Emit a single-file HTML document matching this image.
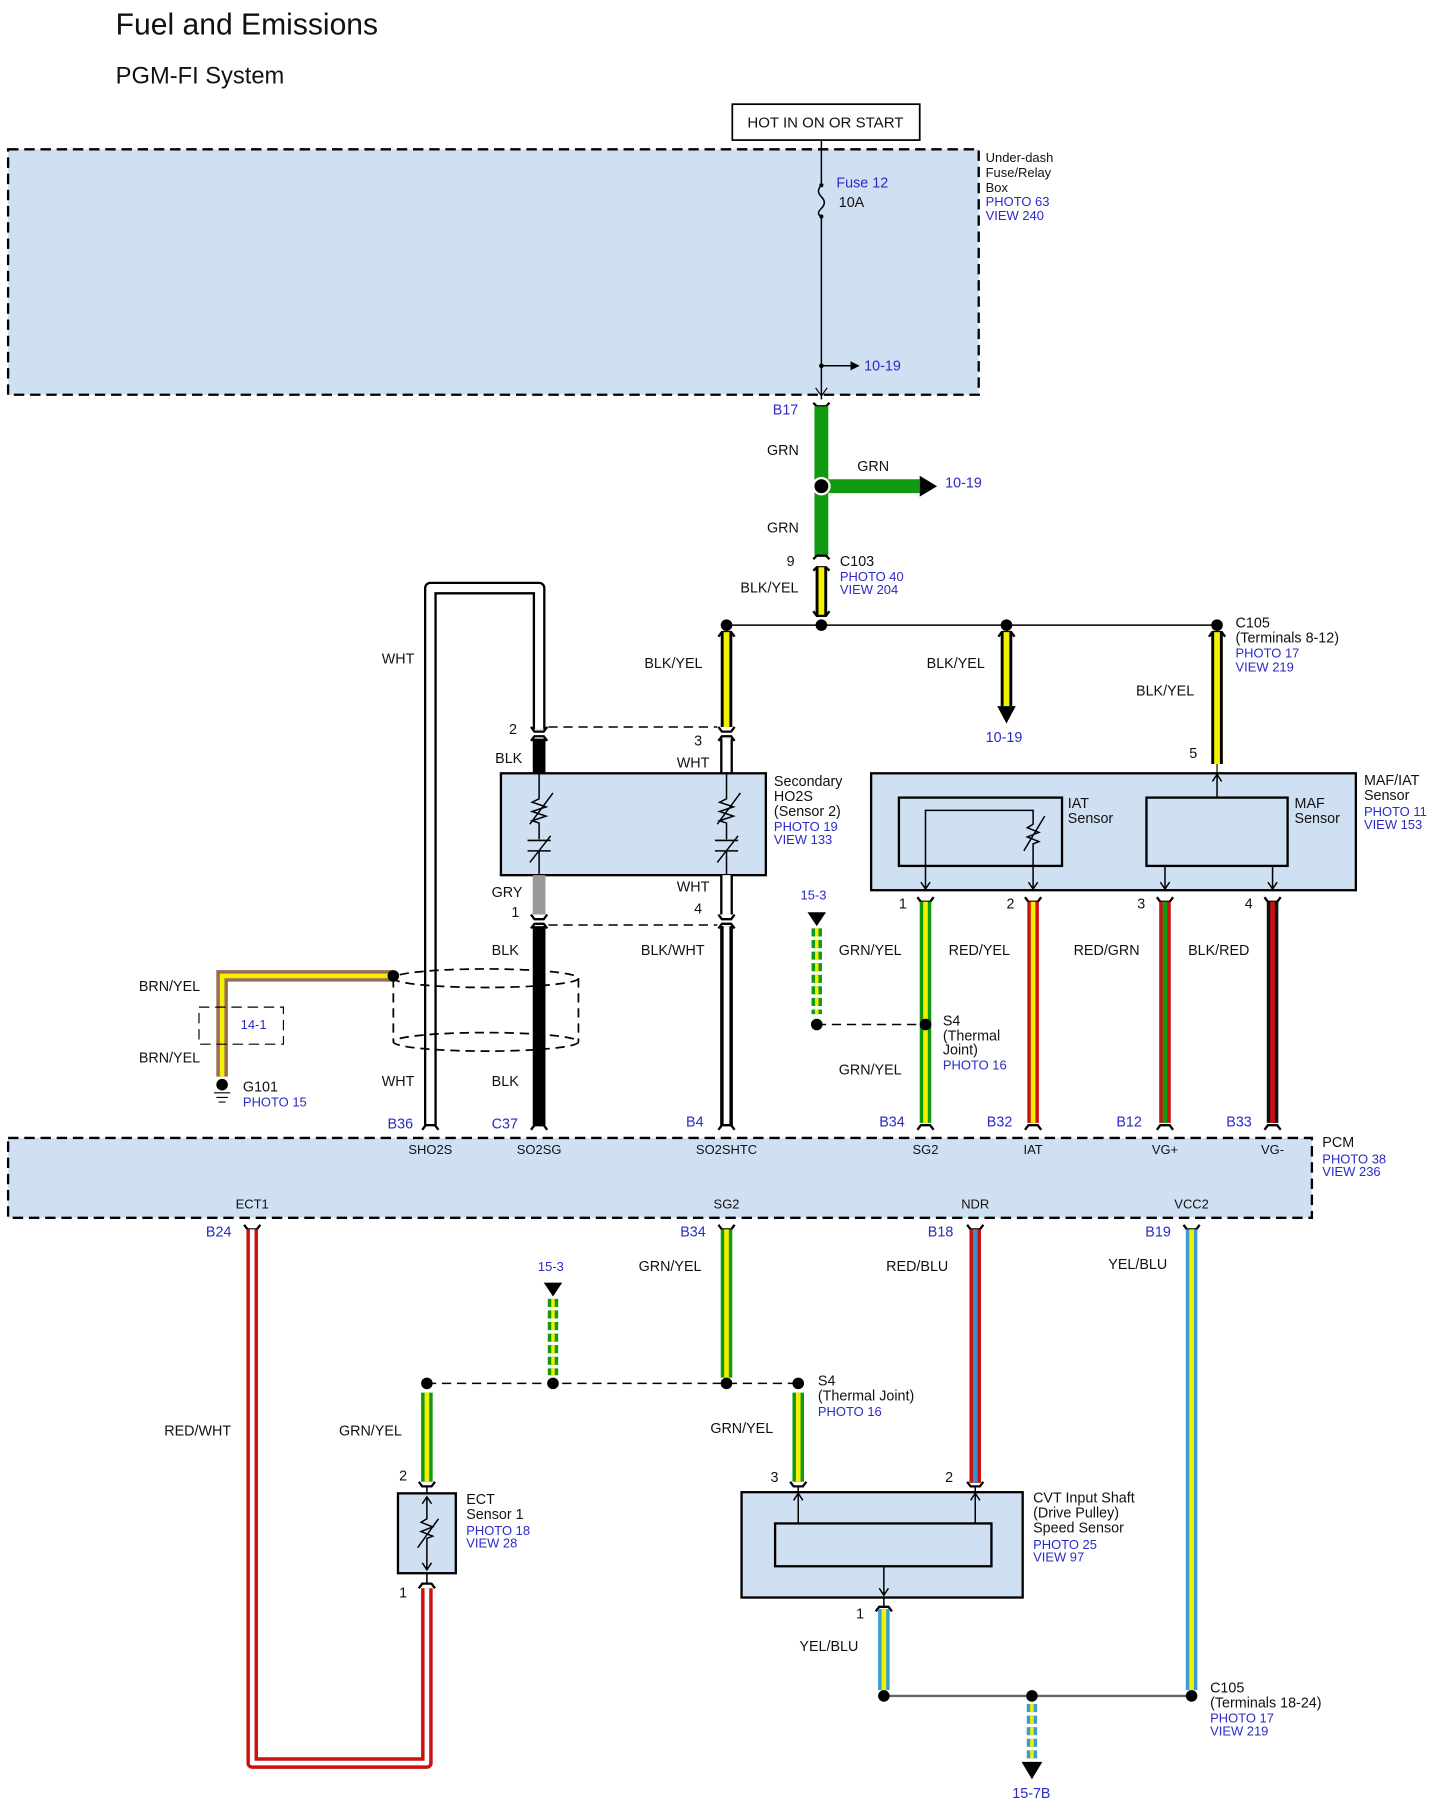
<!DOCTYPE html>
<html><head><meta charset="utf-8"><style>
html,body{margin:0;padding:0;background:#fff;}
svg{display:block;}
text{font-family:"Liberation Sans",sans-serif;font-size:12.4px;fill:#111;}
.b{fill:#2a2ac8;font-size:11.2px;}
.s{font-size:11.2px;}
</style></head><body>
<svg width="1438" height="1814" viewBox="0 0 1243 1567" preserveAspectRatio="none" xmlns="http://www.w3.org/2000/svg">
<defs>
<marker id="ah" markerWidth="8" markerHeight="8" refX="7" refY="4" orient="auto" markerUnits="userSpaceOnUse"><path d="M0,0 L8,4 L0,8 z" fill="#000"/></marker>
</defs>
<rect width="1243" height="1567" fill="#fff"/>
<text x="100" y="30" style="font-size:26px">Fuel and Emissions</text>
<text x="100" y="72" style="font-size:20.5px">PGM-FI System</text>

<rect x="633" y="90" width="162" height="31" fill="#fff" stroke="#000" stroke-width="1.5"/>
<text x="646" y="110" style="font-size:13px">HOT IN ON OR START</text>

<!-- fuse box -->
<rect x="7" y="129" width="839" height="212" fill="#cfe0f3" stroke="#000" stroke-width="2" stroke-dasharray="9,5"/>
<text x="852" y="140" class="s">Under-dash</text><text x="852" y="153" class="s">Fuse/Relay</text><text x="852" y="166" class="s">Box</text>
<text x="852" y="178" class="b">PHOTO 63</text><text x="852" y="190" class="b">VIEW 240</text>
<path d="M710,121 V160 q-5,5 0,10 q5,5 0,10 q-5,5 0,7 V345" fill="none" stroke="#000" stroke-width="1.3"/>
<circle cx="710" cy="160" r="1.8"/><circle cx="710" cy="187" r="1.8"/>
<text x="723" y="162" class="b" style="font-size:12.4px">Fuse 12</text><text x="725" y="179">10A</text>
<line x1="710" y1="316" x2="742" y2="316" stroke="#000" stroke-width="1.3" marker-end="url(#ah)"/>
<circle cx="710" cy="316" r="2"/>
<text x="747" y="320" class="b" style="font-size:12.4px">10-19</text>
<path d="M705,335 L710,342 L715,335" fill="none" stroke="#000"/>

<!-- GRN -->
<text x="668" y="358" class="b" style="font-size:12.4px">B17</text>
<path d="M703,348 L706,351 H714 L717,348" fill="none" stroke="#000" stroke-width="2"/>
<line x1="710" y1="351" x2="710" y2="480" stroke="#119a11" stroke-width="12"/>
<line x1="710" y1="420" x2="795" y2="420" stroke="#119a11" stroke-width="12"/>
<path d="M795,411 L810,420 L795,429 z"/>
<circle cx="710" cy="420" r="7" fill="#000" stroke="#fff" stroke-width="2"/>
<text x="663" y="393">GRN</text><text x="741" y="407">GRN</text><text x="663" y="460">GRN</text>
<text x="817" y="421" class="b" style="font-size:12.4px">10-19</text>
<path d="M703,483 L706,480 H714 L717,483" fill="none" stroke="#000" stroke-width="2"/>
<path d="M703,493 L706,490 H714 L717,493" fill="none" stroke="#000" stroke-width="2"/>
<text x="680" y="489">9</text><text x="726" y="489">C103</text>
<text x="726" y="502" class="b">PHOTO 40</text><text x="726" y="513" class="b">VIEW 204</text>
<text x="640" y="512">BLK/YEL</text>
<line x1="710" y1="490" x2="710" y2="532" stroke="#000" stroke-width="10"/><line x1="710" y1="490" x2="710" y2="532" stroke="#f3f000" stroke-width="5"/>
<path d="M703,528 L706,532 H714 L717,528" fill="none" stroke="#000" stroke-width="2"/>

<line x1="628" y1="540" x2="1052" y2="540" stroke="#000" stroke-width="1.3"/>
<circle cx="628" cy="540" r="5"/><circle cx="710" cy="540" r="5"/><circle cx="870" cy="540" r="5"/><circle cx="1052" cy="540" r="5"/>

<g stroke-width="2" fill="none" stroke="#000">
<path d="M621,550 L624,546 H632 L635,550"/><path d="M863,550 L866,546 H874 L877,550"/><path d="M1045,550 L1048,546 H1056 L1059,550"/>
</g>
<g>
<line x1="628" y1="546" x2="628" y2="628" stroke="#000" stroke-width="10"/><line x1="628" y1="546" x2="628" y2="628" stroke="#f3f000" stroke-width="5"/>
<line x1="870" y1="546" x2="870" y2="610" stroke="#000" stroke-width="10"/><line x1="870" y1="546" x2="870" y2="610" stroke="#f3f000" stroke-width="5"/>
<path d="M862,610 L878,610 L870,625 z"/>
<line x1="1052" y1="546" x2="1052" y2="660" stroke="#000" stroke-width="10"/><line x1="1052" y1="546" x2="1052" y2="660" stroke="#f3f000" stroke-width="5"/>
</g>
<text x="557" y="577">BLK/YEL</text><text x="801" y="577">BLK/YEL</text><text x="982" y="601">BLK/YEL</text>
<text x="852" y="641" class="b" style="font-size:12.4px">10-19</text>
<text x="1068" y="542">C105</text><text x="1068" y="555">(Terminals 8-12)</text>
<text x="1068" y="568" class="b">PHOTO 17</text><text x="1068" y="580" class="b">VIEW 219</text>
<text x="1028" y="655">5</text>

<g stroke-width="2" fill="none" stroke="#000">
<path d="M459,628 L462,632 H470 L473,628"/><path d="M459,640 L462,636 H470 L473,640"/>
<path d="M621,628 L624,632 H632 L635,628"/><path d="M621,640 L624,636 H632 L635,640"/>
<path d="M459,790 L462,794 H470 L473,790"/><path d="M459,802 L462,798 H470 L473,802"/>
<path d="M621,790 L624,794 H632 L635,790"/><path d="M621,802 L624,798 H632 L635,802"/>
</g>
<line x1="474" y1="628" x2="620" y2="628" stroke="#000" stroke-width="1.3" stroke-dasharray="8,5"/>
<line x1="474" y1="799" x2="620" y2="799" stroke="#000" stroke-width="1.3" stroke-dasharray="8,5"/>
<text x="440" y="634">2</text><text x="428" y="659">BLK</text><text x="600" y="644">3</text><text x="585" y="663">WHT</text>
<path d="M372,972 V508 H466 V630" fill="none" stroke="#000" stroke-width="11" stroke-linejoin="round"/>
<path d="M372,972 V508 H466 V630" fill="none" stroke="#fff" stroke-width="7" stroke-linejoin="round"/>
<text x="330" y="573">WHT</text>
<line x1="466" y1="638" x2="466" y2="668" stroke="#000" stroke-width="11"/>
<line x1="628" y1="638" x2="628" y2="668" stroke="#000" stroke-width="11"/><line x1="628" y1="638" x2="628" y2="668" stroke="#fff" stroke-width="7"/>
<rect x="433" y="668" width="229" height="88" fill="#cfe0f3" stroke="#000" stroke-width="2"/>
<g fill="none" stroke="#000" stroke-width="1.3">
<path d="M466,668 V690 l-6,3 l12,4 l-12,4 l12,4 l-12,4 l6,2 V725 M456,726 h20 M456,735 h20 M466,735 V756 M458,745 L476,722 M458,712 L478,685"/>
<path d="M628,668 V690 l-6,3 l12,4 l-12,4 l12,4 l-12,4 l6,2 V725 M618,726 h20 M618,735 h20 M628,735 V756 M620,745 L638,722 M620,712 L640,685"/>
</g>
<text x="669" y="679">Secondary</text><text x="669" y="692">HO2S</text><text x="669" y="705">(Sensor 2)</text>
<text x="669" y="718" class="b">PHOTO 19</text><text x="669" y="729" class="b">VIEW 133</text>
<line x1="466" y1="756" x2="466" y2="790" stroke="#999" stroke-width="11"/>
<line x1="628" y1="756" x2="628" y2="790" stroke="#000" stroke-width="11"/><line x1="628" y1="756" x2="628" y2="790" stroke="#fff" stroke-width="7"/>
<text x="425" y="775">GRY</text><text x="442" y="792">1</text><text x="585" y="770">WHT</text><text x="600" y="789">4</text>
<line x1="466" y1="800" x2="466" y2="972" stroke="#000" stroke-width="11"/>
<line x1="628" y1="800" x2="628" y2="972" stroke="#000" stroke-width="11"/><line x1="628" y1="800" x2="628" y2="972" stroke="#fff" stroke-width="5"/>
<text x="425" y="825">BLK</text><text x="554" y="825">BLK/WHT</text>
<text x="330" y="938">WHT</text><text x="425" y="938">BLK</text>
<g fill="none" stroke="#000" stroke-width="1.5" stroke-dasharray="8,5">
<ellipse cx="420" cy="845" rx="80" ry="8"/><ellipse cx="420" cy="900" rx="80" ry="8"/>
<line x1="340" y1="845" x2="340" y2="900"/><line x1="500" y1="845" x2="500" y2="900"/>
</g>
<path d="M340,843 H192 V930" fill="none" stroke="#9a6a5a" stroke-width="10"/>
<path d="M340,843 H192 V930" fill="none" stroke="#f3f000" stroke-width="4"/>
<circle cx="340" cy="843" r="5"/>
<text x="120" y="856">BRN/YEL</text><text x="120" y="918">BRN/YEL</text>
<rect x="172" y="870" width="73" height="32" fill="none" stroke="#000" stroke-dasharray="9,5"/>
<text x="208" y="889" class="b">14-1</text>
<circle cx="192" cy="937" r="5"/><path d="M185,944 h14 M187,948 h10 M189,952 h6" stroke="#000"/>
<text x="210" y="943">G101</text><text x="210" y="956" class="b">PHOTO 15</text>

<line x1="1052" y1="660" x2="1052" y2="668" stroke="#000"/>
<rect x="753" y="668" width="419" height="101" fill="#cfe0f3" stroke="#000" stroke-width="2"/>
<rect x="777" y="689" width="141" height="59" fill="none" stroke="#000" stroke-width="2"/>
<rect x="991" y="689" width="122" height="59" fill="none" stroke="#000" stroke-width="2"/>
<g fill="none" stroke="#000" stroke-width="1.3">
<path d="M800,768 V700 H893 V712 l-5,3 l10,4 l-10,4 l10,4 l-5,2 V768 M885,735 L903,705"/>
<path d="M1007,748 V768 M1100,748 V768 M1052,689 V668"/>
<path d="M796,762 L800,768 L804,762 M889,762 L893,768 L897,762 M1003,762 L1007,768 L1011,762 M1096,762 L1100,768 L1104,762 M1048,675 L1052,669 L1056,675"/>
</g>
<text x="923" y="698">IAT</text><text x="923" y="711">Sensor</text>
<text x="1119" y="698">MAF</text><text x="1119" y="711">Sensor</text>
<text x="1179" y="678">MAF/IAT</text><text x="1179" y="691">Sensor</text>
<text x="1179" y="705" class="b">PHOTO 11</text><text x="1179" y="716" class="b">VIEW 153</text>
<g stroke-width="2" fill="none" stroke="#000">
<path d="M793,775 L796,779 H804 L807,775"/><path d="M886,775 L889,779 H897 L900,775"/><path d="M1000,775 L1003,779 H1011 L1014,775"/><path d="M1093,775 L1096,779 H1104 L1107,775"/>
</g>
<line x1="800" y1="779" x2="800" y2="970" stroke="#119a11" stroke-width="10"/><line x1="800" y1="779" x2="800" y2="970" stroke="#f3f000" stroke-width="4"/>
<line x1="893" y1="779" x2="893" y2="970" stroke="#cc1111" stroke-width="10"/><line x1="893" y1="779" x2="893" y2="970" stroke="#f3f000" stroke-width="4"/>
<line x1="1007" y1="779" x2="1007" y2="970" stroke="#cc1111" stroke-width="10"/><line x1="1007" y1="779" x2="1007" y2="970" stroke="#119a11" stroke-width="4"/>
<line x1="1100" y1="779" x2="1100" y2="970" stroke="#111" stroke-width="10"/><line x1="1100" y1="779" x2="1100" y2="970" stroke="#cc1111" stroke-width="4"/>
<text x="777" y="785">1</text><text x="870" y="785">2</text><text x="983" y="785">3</text><text x="1076" y="785">4</text>
<text x="725" y="825">GRN/YEL</text><text x="820" y="825">RED/YEL</text><text x="928" y="825">RED/GRN</text><text x="1027" y="825">BLK/RED</text>
<text x="692" y="777" class="b">15-3</text>
<path d="M698,788 L714,788 L706,800 z"/>
<line x1="706" y1="802" x2="706" y2="876" stroke="#119a11" stroke-width="9" stroke-dasharray="7,3"/><line x1="706" y1="802" x2="706" y2="876" stroke="#f3f000" stroke-width="3" stroke-dasharray="7,3"/>
<line x1="706" y1="885" x2="800" y2="885" stroke="#000" stroke-width="1.3" stroke-dasharray="8,5"/>
<circle cx="706" cy="885" r="5"/><circle cx="800" cy="885" r="5"/>
<text x="815" y="886">S4</text><text x="815" y="899">(Thermal</text><text x="815" y="911">Joint)</text><text x="815" y="924" class="b">PHOTO 16</text>
<text x="725" y="928">GRN/YEL</text>

<g stroke-width="2" fill="none" stroke="#000">
<path d="M365,976 L368,972 H376 L379,976"/><path d="M459,976 L462,972 H470 L473,976"/><path d="M621,976 L624,972 H632 L635,976"/>
<path d="M793,976 L796,972 H804 L807,976"/><path d="M886,976 L889,972 H897 L900,976"/><path d="M1000,976 L1003,972 H1011 L1014,976"/><path d="M1093,976 L1096,972 H1104 L1107,976"/>
</g>
<text x="335" y="975" class="b" style="font-size:12.4px">B36</text><text x="425" y="975" class="b" style="font-size:12.4px">C37</text><text x="593" y="973" class="b" style="font-size:12.4px">B4</text>
<text x="760" y="973" class="b" style="font-size:12.4px">B34</text><text x="853" y="973" class="b" style="font-size:12.4px">B32</text><text x="965" y="973" class="b" style="font-size:12.4px">B12</text><text x="1060" y="973" class="b" style="font-size:12.4px">B33</text>

<rect x="7" y="983" width="1127" height="69" fill="#cfe0f3" stroke="#000" stroke-width="2" stroke-dasharray="9,5"/>
<g text-anchor="middle">
<text x="372" y="997" class="s">SHO2S</text><text x="466" y="997" class="s">SO2SG</text><text x="628" y="997" class="s">SO2SHTC</text><text x="800" y="997" class="s">SG2</text><text x="893" y="997" class="s">IAT</text><text x="1007" y="997" class="s">VG+</text><text x="1100" y="997" class="s">VG-</text>
<text x="218" y="1044" class="s">ECT1</text><text x="628" y="1044" class="s">SG2</text><text x="843" y="1044" class="s">NDR</text><text x="1030" y="1044" class="s">VCC2</text>
</g>
<text x="1143" y="991">PCM</text><text x="1143" y="1005" class="b">PHOTO 38</text><text x="1143" y="1016" class="b">VIEW 236</text>

<g stroke-width="2" fill="none" stroke="#000">
<path d="M211,1058 L214,1062 H222 L225,1058"/><path d="M621,1058 L624,1062 H632 L635,1058"/><path d="M836,1058 L839,1062 H847 L850,1058"/><path d="M1023,1058 L1026,1062 H1034 L1037,1058"/>
</g>
<text x="178" y="1068" class="b" style="font-size:12.4px">B24</text><text x="588" y="1068" class="b" style="font-size:12.4px">B34</text><text x="802" y="1068" class="b" style="font-size:12.4px">B18</text><text x="990" y="1068" class="b" style="font-size:12.4px">B19</text>
<path d="M218,1062 V1523 H369 V1372" fill="none" stroke="#cc1111" stroke-width="10" stroke-linejoin="round"/>
<path d="M218,1062 V1523 H369 V1372" fill="none" stroke="#fff" stroke-width="4" stroke-linejoin="round"/>
<text x="142" y="1240">RED/WHT</text>
<line x1="628" y1="1062" x2="628" y2="1190" stroke="#119a11" stroke-width="10"/><line x1="628" y1="1062" x2="628" y2="1190" stroke="#f3f000" stroke-width="4"/>
<text x="552" y="1098">GRN/YEL</text>
<line x1="843" y1="1062" x2="843" y2="1281" stroke="#cc1111" stroke-width="10"/><line x1="843" y1="1062" x2="843" y2="1281" stroke="#3a8fd0" stroke-width="4"/>
<text x="766" y="1098">RED/BLU</text>
<line x1="1030" y1="1062" x2="1030" y2="1460" stroke="#3a9fd0" stroke-width="10"/><line x1="1030" y1="1062" x2="1030" y2="1460" stroke="#f3f000" stroke-width="4"/>
<text x="958" y="1096">YEL/BLU</text>

<text x="465" y="1098" class="b">15-3</text>
<path d="M470,1108 L486,1108 L478,1120 z"/>
<line x1="478" y1="1122" x2="478" y2="1188" stroke="#119a11" stroke-width="9" stroke-dasharray="7,3"/><line x1="478" y1="1122" x2="478" y2="1188" stroke="#f3f000" stroke-width="3" stroke-dasharray="7,3"/>
<line x1="369" y1="1195" x2="690" y2="1195" stroke="#000" stroke-width="1.3" stroke-dasharray="8,5"/>
<circle cx="369" cy="1195" r="5"/><circle cx="478" cy="1195" r="5"/><circle cx="628" cy="1195" r="5"/><circle cx="690" cy="1195" r="5"/>
<text x="707" y="1197">S4</text><text x="707" y="1210">(Thermal Joint)</text><text x="707" y="1223" class="b">PHOTO 16</text>
<line x1="369" y1="1203" x2="369" y2="1280" stroke="#119a11" stroke-width="10"/><line x1="369" y1="1203" x2="369" y2="1280" stroke="#f3f000" stroke-width="4"/>
<line x1="690" y1="1203" x2="690" y2="1280" stroke="#119a11" stroke-width="10"/><line x1="690" y1="1203" x2="690" y2="1280" stroke="#f3f000" stroke-width="4"/>
<text x="293" y="1240">GRN/YEL</text><text x="614" y="1238">GRN/YEL</text>
<text x="345" y="1279">2</text><text x="666" y="1280">3</text><text x="817" y="1280">2</text>
<g stroke-width="2" fill="none" stroke="#000">
<path d="M362,1280 L365,1284 H373 L376,1280"/><path d="M683,1280 L686,1284 H694 L697,1280"/><path d="M836,1280 L839,1284 H847 L850,1280"/>
<path d="M362,1372 L365,1368 H373 L376,1372"/><path d="M757,1392 L760,1388 H768 L771,1392"/>
</g>
<rect x="344" y="1290" width="50" height="69" fill="#cfe0f3" stroke="#000" stroke-width="2"/>
<g fill="none" stroke="#000" stroke-width="1.3">
<path d="M369,1284 V1290 M369,1293 V1312 l-5,3 l10,4 l-10,4 l10,4 l-5,2 V1356 M361,1337 L379,1312 M365,1299 L369,1293 L373,1299 M365,1350 L369,1356 L373,1350 M369,1359 V1368"/>
</g>
<text x="403" y="1299">ECT</text><text x="403" y="1312">Sensor 1</text><text x="403" y="1326" class="b">PHOTO 18</text><text x="403" y="1337" class="b">VIEW 28</text>
<text x="345" y="1380">1</text>
<rect x="641" y="1289" width="243" height="91" fill="#cfe0f3" stroke="#000" stroke-width="2"/>
<rect x="670" y="1316" width="187" height="37" fill="none" stroke="#000" stroke-width="2"/>
<g fill="none" stroke="#000" stroke-width="1.3">
<path d="M690,1284 V1316 M843,1284 V1316 M764,1353 V1378 M764,1380 V1388 M686,1296 L690,1290 L694,1296 M839,1296 L843,1290 L847,1296 M760,1372 L764,1378 L768,1372"/>
</g>
<text x="893" y="1298">CVT Input Shaft</text><text x="893" y="1311">(Drive Pulley)</text><text x="893" y="1324">Speed Sensor</text>
<text x="893" y="1338" class="b">PHOTO 25</text><text x="893" y="1349" class="b">VIEW 97</text>
<line x1="764" y1="1390" x2="764" y2="1460" stroke="#3a9fd0" stroke-width="10"/><line x1="764" y1="1390" x2="764" y2="1460" stroke="#f3f000" stroke-width="4"/>
<text x="740" y="1398">1</text><text x="691" y="1426">YEL/BLU</text>
<line x1="764" y1="1465" x2="1030" y2="1465" stroke="#666" stroke-width="2"/>
<circle cx="764" cy="1465" r="5"/><circle cx="892" cy="1465" r="5"/><circle cx="1030" cy="1465" r="5"/>
<line x1="892" y1="1472" x2="892" y2="1524" stroke="#3a9fd0" stroke-width="9" stroke-dasharray="7,3"/><line x1="892" y1="1472" x2="892" y2="1524" stroke="#f3f000" stroke-width="3" stroke-dasharray="7,3"/>
<path d="M883,1522 L901,1522 L892,1537 z"/>
<text x="875" y="1553" class="b" style="font-size:12.4px">15-7B</text>
<text x="1046" y="1462">C105</text><text x="1046" y="1475">(Terminals 18-24)</text><text x="1046" y="1488" class="b">PHOTO 17</text><text x="1046" y="1499" class="b">VIEW 219</text>
</svg>
</body></html>
